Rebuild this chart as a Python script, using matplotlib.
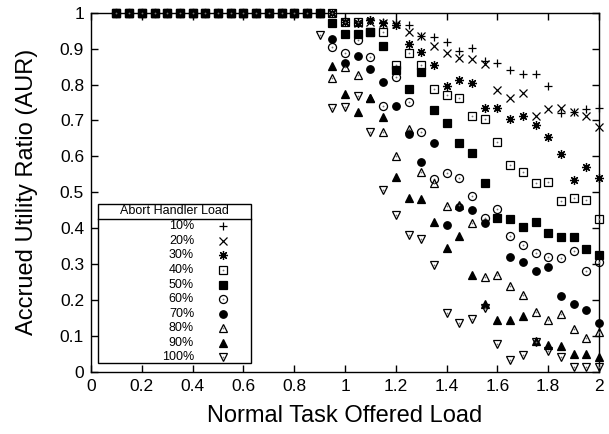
import numpy as np
import matplotlib
matplotlib.use("Agg")
import matplotlib.pyplot as plt
from matplotlib.patches import Rectangle
from matplotlib.ticker import FormatStrFormatter

plt.rcParams['font.family'] = ['Liberation Sans', 'DejaVu Sans']

# normal task offered load, sampled every 0.05 from 0.1 to 2.0
load = np.round(np.arange(0.10, 2.001, 0.05), 2)

# AUR is 1.0 for every abort handler load up to 0.9
full = [1.0] * 17

aur_10 = full + [1.0, 0.98, 0.975, 0.98, 0.975, 0.97, 0.967, 0.935, 0.932, 0.919, 0.894,
                 0.902, 0.865, 0.861, 0.840, 0.829, 0.829, 0.796, 0.722, 0.725, 0.731, 0.735]
aur_20 = full + [1.0, 0.975, 0.97, 0.975, 0.97, 0.968, 0.947, 0.935, 0.907, 0.887, 0.873,
                 0.871, 0.856, 0.786, 0.762, 0.777, 0.712, 0.731, 0.736, 0.725, 0.712, 0.682]
aur_30 = full + [1.0, 0.975, 0.972, 0.979, 0.972, 0.966, 0.914, 0.891, 0.854, 0.797, 0.814,
                 0.803, 0.734, 0.734, 0.703, 0.712, 0.687, 0.655, 0.607, 0.534, 0.571, 0.539]
aur_40 = full + [1.0, 0.975, 0.975, 0.947, 0.947, 0.854, 0.889, 0.854, 0.788, 0.770, 0.762,
                 0.713, 0.703, 0.641, 0.575, 0.556, 0.526, 0.529, 0.477, 0.484, 0.478, 0.425]
aur_50 = full + [0.972, 0.940, 0.940, 0.945, 0.907, 0.840, 0.789, 0.836, 0.728, 0.692, 0.636,
                 0.610, 0.526, 0.430, 0.425, 0.403, 0.418, 0.387, 0.377, 0.375, 0.341, 0.325]
aur_60 = full + [0.904, 0.889, 0.925, 0.878, 0.739, 0.822, 0.752, 0.669, 0.536, 0.555, 0.539,
                 0.490, 0.428, 0.453, 0.378, 0.353, 0.330, 0.319, 0.318, 0.336, 0.281, 0.306]
aur_70 = full + [0.926, 0.859, 0.879, 0.842, 0.806, 0.740, 0.663, 0.584, 0.636, 0.409, 0.458,
                 0.451, 0.415, 0.430, 0.319, 0.306, 0.281, 0.292, 0.212, 0.189, 0.173, 0.135]
aur_80 = full + [0.817, 0.848, 0.826, 0.762, 0.669, 0.600, 0.675, 0.557, 0.525, 0.462, 0.465,
                 0.416, 0.264, 0.270, 0.239, 0.214, 0.168, 0.145, 0.162, 0.119, 0.094, 0.112]
aur_90 = full + [0.852, 0.775, 0.724, 0.762, 0.711, 0.544, 0.483, 0.481, 0.418, 0.344, 0.379,
                 0.270, 0.188, 0.145, 0.145, 0.156, 0.086, 0.075, 0.071, 0.050, 0.050, 0.043]
aur_100 = [1.0] * 16 + [0.938,
                        0.734, 0.738, 0.768, 0.669, 0.507, 0.437, 0.381, 0.369, 0.298, 0.165, 0.136,
                        0.147, 0.177, 0.077, 0.034, 0.047, 0.084, 0.059, 0.041, 0.015, 0.015, 0.015]

labels = ['10%', '20%', '30%', '40%', '50%', '60%', '70%', '80%', '90%', '100%']
series = [aur_10, aur_20, aur_30, aur_40, aur_50, aur_60, aur_70, aur_80, aur_90, aur_100]

# gnuplot-ish point types: (marker, size, filled, centre dot)
styles = [
    ('+', 6.0, False, False),
    ('x', 5.5, False, False),
    ((8, 2, 0), 6.5, False, False),
    ('s', 5.2, False, True),
    ('s', 5.2, True, False),
    ('o', 5.8, False, True),
    ('o', 5.4, True, False),
    ('^', 6.3, False, True),
    ('^', 5.6, True, False),
    ('v', 6.3, False, True),
]


def draw_points(ax, x, y, style, **kw):
    m, ms, filled, dot = style
    fc = 'black' if filled else 'none'
    ax.plot(x, y, linestyle='none', marker=m, ms=ms, mfc=fc, mec='black',
            mew=0.9, clip_on=False, **kw)
    if dot:
        ax.plot(x, y, linestyle='none', marker='o', ms=1.3, mfc='0.45', mew=0,
                clip_on=False, **kw)


fig = plt.figure(figsize=(6.09, 4.34), dpi=100)
ax = fig.add_axes([91 / 609, 62 / 434, 508 / 609, 359.3 / 434])

for vals, st in zip(series, styles):
    draw_points(ax, load, vals, st, zorder=3)

ax.set_xlim(0, 2)
ax.set_ylim(0, 1)
ax.set_xticks(np.arange(0, 2.01, 0.2))
ax.set_yticks(np.arange(0, 1.01, 0.1))
ax.xaxis.set_major_formatter(FormatStrFormatter('%g'))
ax.yaxis.set_major_formatter(FormatStrFormatter('%g'))
ax.tick_params(direction='in', length=5, width=1, top=True, right=True,
               labelsize=12.5, pad=5)
for sp in ax.spines.values():
    sp.set_linewidth(1.0)

ax.set_xlabel('Normal Task Offered Load', fontsize=17, labelpad=8)
ax.set_ylabel('Accrued Utility Ratio (AUR)', fontsize=17, labelpad=16)

# key box drawn by hand, gnuplot style (title row with a rule under it)
bx0, bx1 = 0.0138, 0.315
by0, by1 = 0.024, 0.468
ax.add_patch(Rectangle((bx0, by0), bx1 - bx0, by1 - by0, transform=ax.transAxes,
                       facecolor='white', edgecolor='black', lw=1, zorder=5))
ax.plot([bx0, bx1], [0.427, 0.427], color='black', lw=1, transform=ax.transAxes,
        zorder=6)
ax.text((bx0 + bx1) / 2, 0.447, 'Abort Handler Load', transform=ax.transAxes,
        ha='center', va='center', fontsize=9, zorder=6)
for i, (lab, st) in enumerate(zip(labels, styles)):
    yy = (372 - (226.3 + 14.57 * i)) / 359.3
    ax.text(0.203, yy, lab, transform=ax.transAxes, ha='right', va='center',
            fontsize=9, zorder=6)
    draw_points(ax, [0.259], [yy], st, transform=ax.transAxes, zorder=7)

fig.savefig('out.png', dpi=100)
